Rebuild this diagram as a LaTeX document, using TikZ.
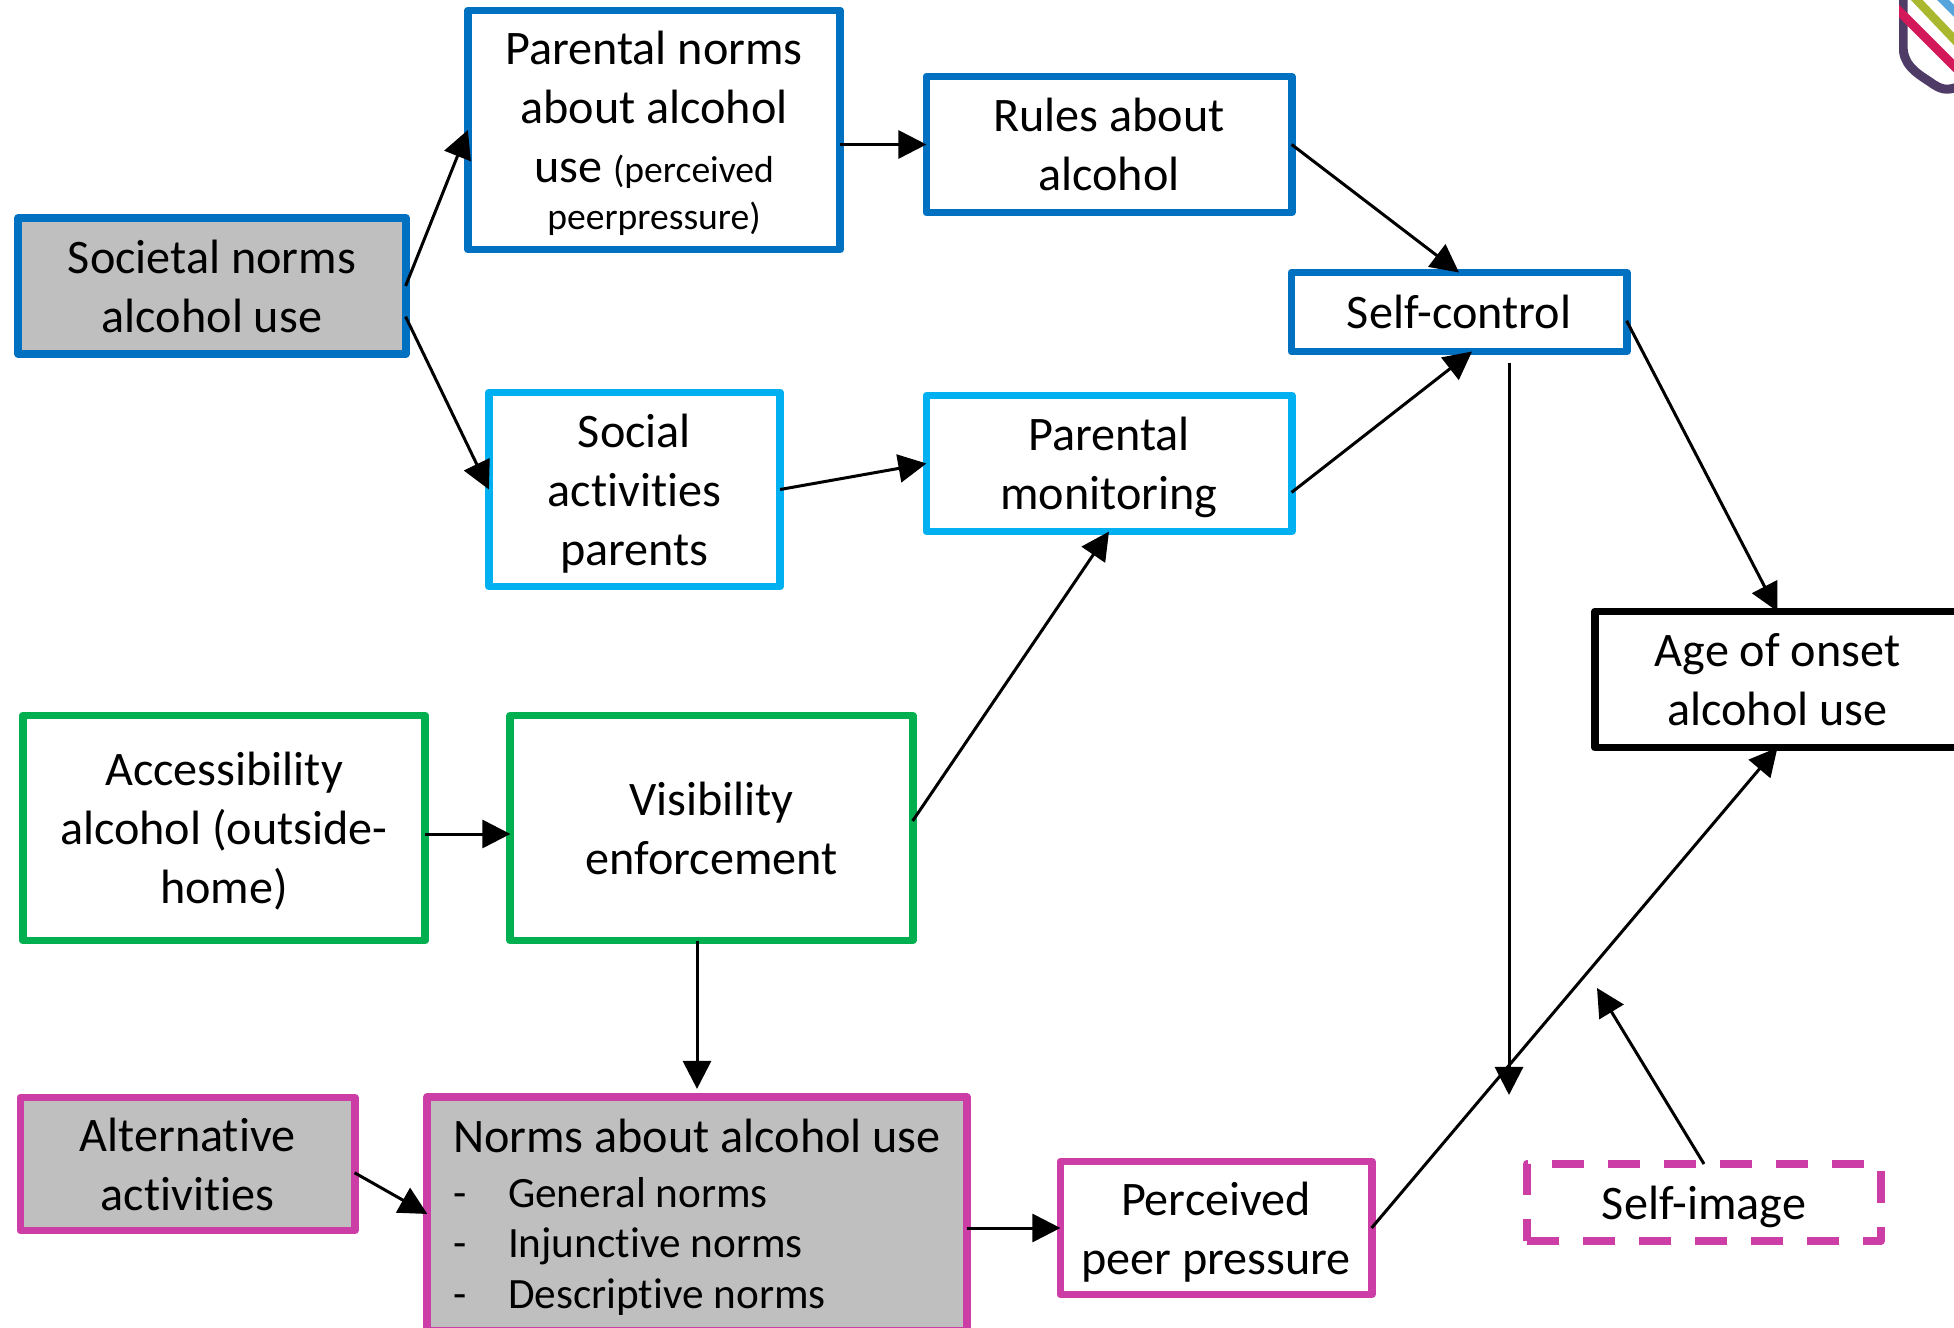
\documentclass[tikz,border=0pt]{standalone}
\usepackage{fontspec}
\setmainfont[Ligatures=NoCommon]{Carlito}
\usetikzlibrary{arrows.meta,calc}
\definecolor{darkblue}{HTML}{0070C0}
\definecolor{lightblue}{HTML}{00B0F0}
\definecolor{boxgreen}{HTML}{00B050}
\definecolor{boxpink}{HTML}{CC3EA6}
\definecolor{boxgrey}{HTML}{BFBFBF}
\definecolor{logopurple}{HTML}{4E3B66}
\definecolor{logored}{HTML}{D3195A}
\definecolor{logoolive}{HTML}{A9B82F}
\definecolor{logoblue}{HTML}{55A5DC}
\tikzset{
	box/.style={draw,line width=0.078cm,line join=round,inner sep=0pt,outer sep=0pt,align=center,
		font=\fontsize{13.7}{16.8}\selectfont,text=black,text depth=0pt},
	bluebox/.style={box,draw=darkblue},
	skybox/.style={box,draw=lightblue},
	greenbox/.style={box,draw=boxgreen},
	pinkbox/.style={box,draw=boxpink},
	blackbox/.style={box,draw=black},
	greyfill/.style={fill=boxgrey},
	dashbox/.style={pinkbox,dash pattern=on 0.32cm off 0.24cm},
	link/.style={line width=0.03cm,-{Triangle[length=0.28cm,width=0.28cm]}}
}
\newcommand{\smalltxt}{\fontsize{10.7}{13}\selectfont}
\newcommand{\itemtxt}{\fontsize{12.3}{14.5}\selectfont}
\newcommand{\normitem}[1]{\makebox[0.55cm][l]{-}#1}
\begin{document}
\begin{tikzpicture}[x=0.01cm,y=-0.01cm]
	\useasboundingbox (0,0) rectangle (1954,1328);
	\clip (0,0) rectangle (1954,1328);
	
	%logo
	\begin{scope}
		\clip (1899,0) rectangle (1954,120);
		\draw[logoolive,line width=0.085cm]	(1912,-5)--(1960,45.5);
		\draw[logoblue,line width=0.085cm]	(1940,-3)--(1960,17);
		\draw[logopurple,line width=0.09cm]	(1903,-5)--(1903,45) .. controls (1903,65) and (1915,72) .. (1930,82) .. controls (1940,89) and (1946,92) .. (1960,86);
		\draw[logored,line width=0.09cm]	(1890,2)--(1960,72);
	\end{scope}
	
	%top row
	\node[bluebox,greyfill,minimum width=3.87cm,minimum height=1.36cm] (societal) at (212,286) {Societal norms\\alcohol use};
	\node[bluebox,minimum width=3.72cm,minimum height=2.39cm] (pnorms) at (654,130) {Parental norms\\about alcohol\\use {\smalltxt (perceived}\\[-3.5pt]{\smalltxt peerpressure)}};
	\node[bluebox,minimum width=3.65cm,minimum height=1.36cm] (rules) at (1109,144.5) {Rules about\\alcohol};
	\node[bluebox,minimum width=3.35cm,minimum height=0.79cm] (selfctrl) at (1459,312) {Self-control};
	\node[skybox,minimum width=2.91cm,minimum height=1.94cm] (social) at (634.5,489.5) {Social\\activities\\parents};
	\node[skybox,minimum width=3.65cm,minimum height=1.36cm] (monitor) at (1109,463.5) {Parental\\monitoring};
	\node[blackbox,minimum width=3.65cm,minimum height=1.36cm] (onset) at (1777.5,679.5) {Age of onset\\alcohol use};
	
	%middle row
	\node[greenbox,minimum width=4.02cm,minimum height=2.25cm] (access) at (224,828) {Accessibility\\alcohol (outside-\\home)};
	\node[greenbox,minimum width=4.02cm,minimum height=2.25cm] (visible) at (711.5,828) {Visibility\\enforcement};
	
	%bottom row
	\node[pinkbox,greyfill,minimum width=5.39cm,minimum height=2.34cm,align=left] (norms) at (697,1214) {Norms about alcohol use\\[-1.35pt]
		{\itemtxt\normitem{General norms}}\\[-2.35pt]
		{\itemtxt\normitem{Injunctive norms}}\\[-2.35pt]
		{\itemtxt\normitem{Descriptive norms}}};
	\node[pinkbox,greyfill,minimum width=3.34cm,minimum height=1.33cm] (altern) at (187.5,1164) {Alternative\\activities};
	\node[pinkbox,minimum width=3.11cm,minimum height=1.33cm] (percv) at (1216,1228) {Perceived\\peer pressure};
	\node[dashbox,minimum width=3.54cm,minimum height=0.77cm] (selfimg) at (1704,1202.5) {Self-image};
	
	%free ends
	\coordinate (ctrlend) at (1509,1095);
	\coordinate (imgend) at (1597,988);
	
	%arrows
	\draw[link]	(societal.east)--(pnorms.west);
	\draw[link]	(societal.-9)--(social.west);
	\draw[link]	(pnorms.east |- rules.west)--(rules.west);
	\draw[link]	(rules.east)--(selfctrl.north);
	\draw[link]	(social.east)--(monitor.west);
	\draw[link]	(monitor.-9)--([xshift=0.13cm]selfctrl.south);
	\draw[link]	(selfctrl.-3.4)--(onset.north);
	\draw[link]	(selfctrl.south -| ctrlend)++(0,11)--(ctrlend);
	\draw[link]	(visible.2.5)--(monitor.south);
	\draw[link]	([yshift=-0.06cm]access.east)--([yshift=-0.06cm]visible.west);
	\draw[link,shorten >=0.08cm]	(visible.south -| norms.north)--(norms.north);
	\draw[link]	(altern.-3.4)--(norms.west);
	\draw[link]	(norms.east |- percv.west)--(percv.west);
	\draw[link]	(percv.east)--(onset.south);
	\draw[link]	(selfimg.north)--(imgend);
\end{tikzpicture}
\end{document}
